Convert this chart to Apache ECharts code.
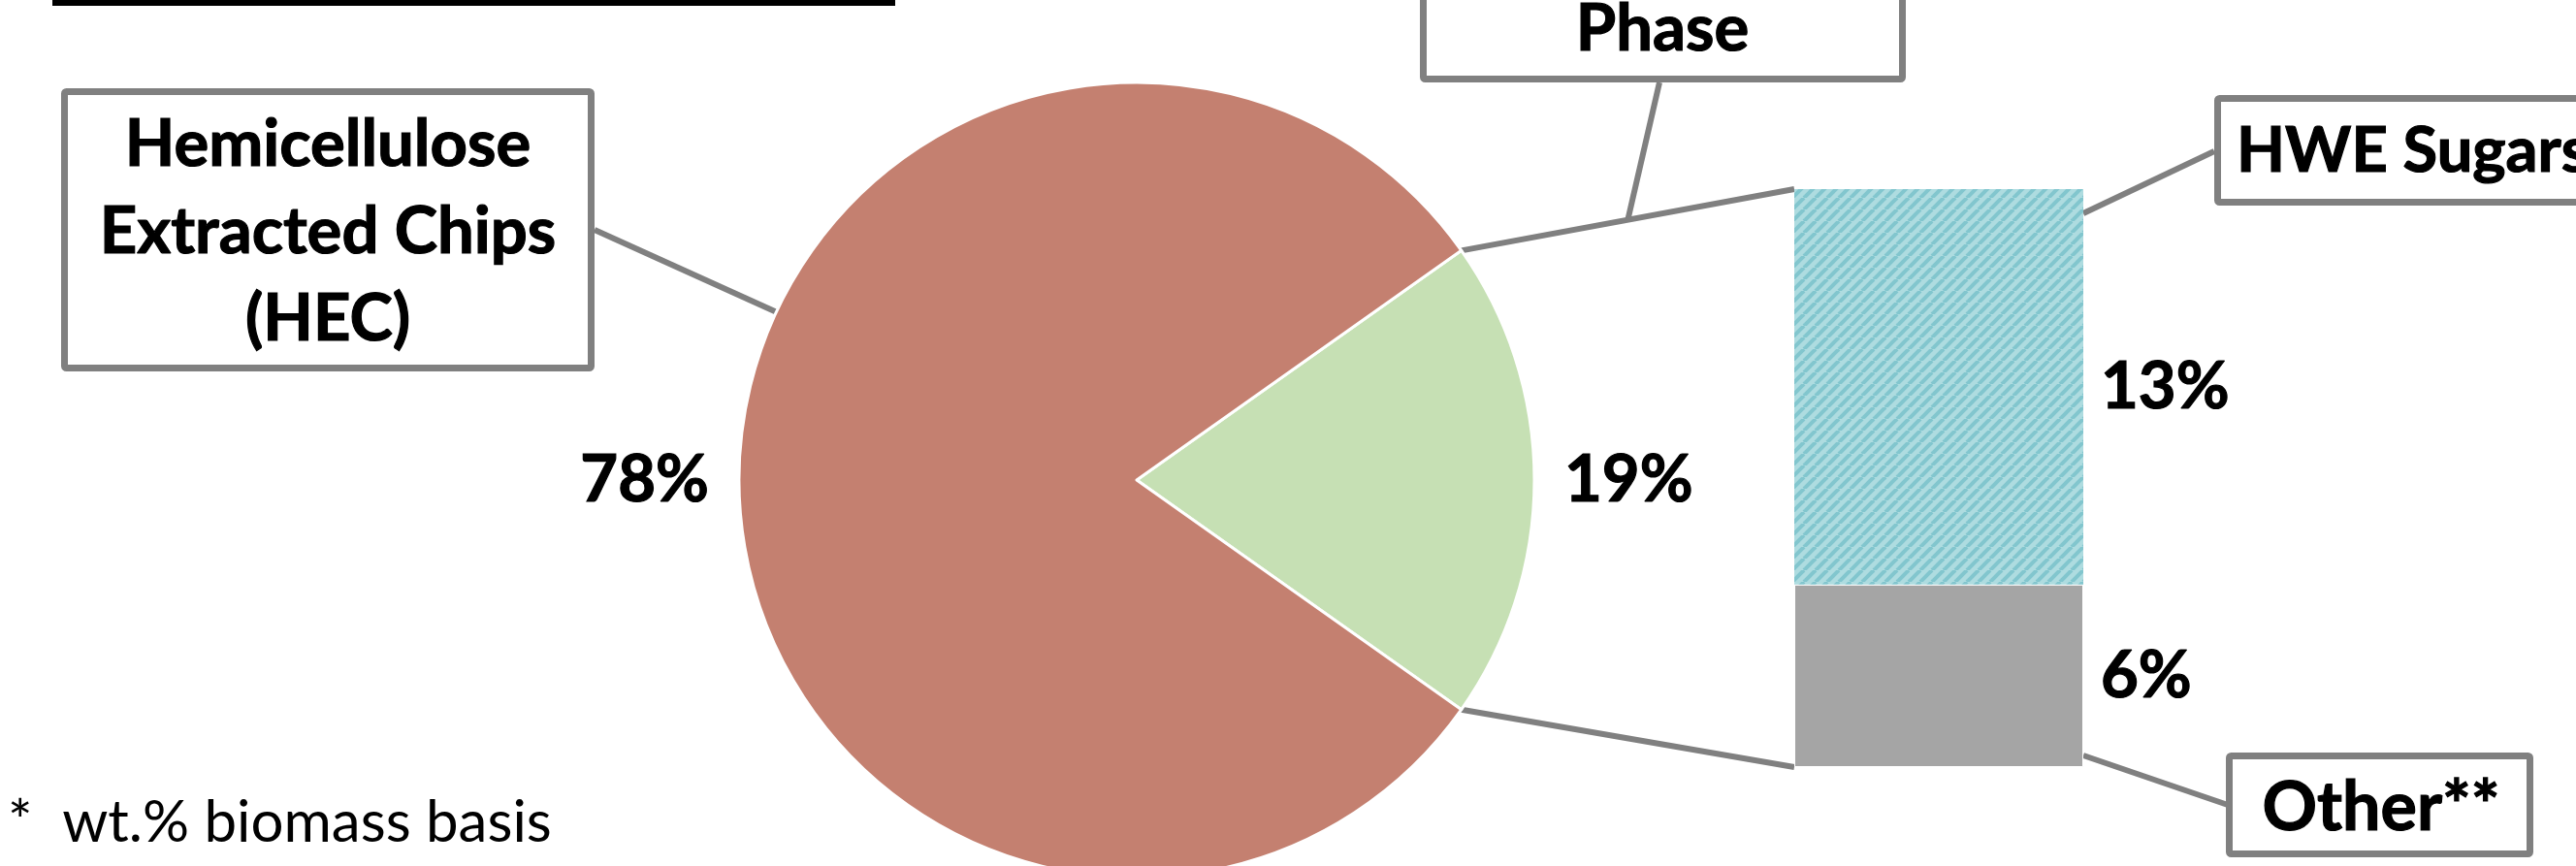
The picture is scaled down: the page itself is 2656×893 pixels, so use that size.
<!DOCTYPE html>
<html>
<head>
<meta charset="utf-8">
<script src="https://cdn.jsdelivr.net/npm/echarts@6/dist/echarts.min.js"></script>
<style>
  html, body { margin: 0; padding: 0; background: #fff; }
  #chart { width: 2656px; height: 893px; }
</style>
</head>
<body>
<div id="chart"></div>
<script>
// Biomass split after hot-water extraction, wt.% biomass basis
const pieNames = ['HWE Liquid Phase', 'Hemicellulose Extracted Chips (HEC)'];
const pieValues = [19, 78];
const barNames = ['Other**', 'HWE Sugars'];
const barValues = [6, 13];
const barCategory = ['HWE Liquid Phase'];
const footnote = '*  wt.% biomass basis';

// Styling and layout
const FONT = 'Lato, "Open Sans", "Noto Sans", sans-serif';
const LABEL_SIZE = 67;
const pieColors = ['#C6E0B4', '#C48070'];
const otherColor = '#A5A5A5';
const hatchBg = '#AEDCE0';
const hatchFg = '#82C6CE';
const lineColor = '#808080';
const PIE = { cx: 1172, cy: 495, r: 410 };
const GRID = { left: 1850, top: 195, width: 298, height: 596 };

// Upward diagonal hatch tile for the sugars segment
function hatchTile() {
  const p = 12;
  const c = document.createElement('canvas');
  c.width = p; c.height = p;
  const g = c.getContext('2d');
  g.fillStyle = hatchBg;
  g.fillRect(0, 0, p, p);
  g.strokeStyle = hatchFg;
  g.lineWidth = 4;
  for (const k of [-p, 0, p]) {
    g.beginPath();
    g.moveTo(k, p);
    g.lineTo(k + p, 0);
    g.stroke();
  }
  return c;
}

const pieTotal = pieValues.reduce((a, b) => a + b, 0);
const barTotal = barValues.reduce((a, b) => a + b, 0);
// first slice is centred on the right-hand side of the pie
const halfAngle = pieValues[0] / pieTotal * 180;

const chart = echarts.init(document.getElementById('chart'), null, { renderer: 'canvas' });

// bold labels get a thin outline of their own colour for a heavier weight
const labelText = {
  fontFamily: FONT, fontWeight: 'bold', fontSize: LABEL_SIZE, color: '#000',
  textBorderColor: '#000', textBorderWidth: 1.2
};

chart.setOption({
  backgroundColor: '#fff',
  animation: false,
  grid: { left: GRID.left, top: GRID.top, width: GRID.width, height: GRID.height },
  xAxis: { type: 'category', data: barCategory, show: false },
  yAxis: { type: 'value', min: 0, max: barTotal, show: false },
  series: [
    {
      type: 'pie',
      silent: true,
      center: [PIE.cx, PIE.cy],
      radius: PIE.r,
      startAngle: halfAngle,
      clockwise: true,
      avoidLabelOverlap: false,
      itemStyle: { borderColor: '#fff', borderWidth: 3 },
      label: Object.assign({
        show: true,
        position: 'outside',
        formatter: p => p.value + '%'
      }, labelText),
      labelLine: { show: false, length: 12, length2: 14 },
      data: pieNames.map((n, i) => ({
        name: n, value: pieValues[i], itemStyle: { color: pieColors[i] }
      }))
    },
    {
      type: 'bar',
      name: barNames[0],
      stack: 'liquid',
      barWidth: '100%',
      silent: true,
      itemStyle: { color: otherColor, borderColor: '#fff', borderWidth: 1 },
      label: Object.assign({
        show: true, position: 'right', distance: 18,
        formatter: p => p.value + '%'
      }, labelText),
      data: [barValues[0]]
    },
    {
      type: 'bar',
      name: barNames[1],
      stack: 'liquid',
      barWidth: '100%',
      silent: true,
      itemStyle: { color: { image: hatchTile(), repeat: 'repeat' } },
      label: Object.assign({
        show: true, position: 'right', distance: 18,
        formatter: p => p.value + '%'
      }, labelText),
      data: [barValues[1]]
    }
  ]
});

// Connector and leader lines, derived from the pie and bar geometry
const rad = halfAngle * Math.PI / 180;
const pieTop = [PIE.cx + PIE.r * Math.cos(rad), PIE.cy - PIE.r * Math.sin(rad)];
const pieBot = [PIE.cx + PIE.r * Math.cos(rad), PIE.cy + PIE.r * Math.sin(rad)];
const xCenter = chart.convertToPixel({ xAxisIndex: 0 }, barCategory[0]);
const xL = xCenter - GRID.width / 2;
const xR = xCenter + GRID.width / 2;
const yTop = chart.convertToPixel({ yAxisIndex: 0 }, barTotal);
const yBot = chart.convertToPixel({ yAxisIndex: 0 }, 0);

const hecAngle = 155 * Math.PI / 180;
const hecPoint = [PIE.cx + PIE.r * Math.cos(hecAngle), PIE.cy - PIE.r * Math.sin(hecAngle)];
const connMid = [(pieTop[0] + xL) / 2, (pieTop[1] + yTop) / 2];

function seg(a, b) {
  return {
    type: 'line', silent: true,
    shape: { x1: a[0], y1: a[1], x2: b[0], y2: b[1] },
    style: { stroke: lineColor, lineWidth: 6 }
  };
}
function box(x, y, w, h) {
  return {
    type: 'rect', silent: true,
    shape: { x: x, y: y, width: w, height: h, r: 2 },
    style: { fill: '#fff', stroke: lineColor, lineWidth: 7 }
  };
}
function text(str, x, y, align, extra) {
  return {
    type: 'text', silent: true, x: x, y: y,
    style: Object.assign({
      text: str, fill: '#000', font: 'bold ' + LABEL_SIZE + 'px ' + FONT,
      align: align, verticalAlign: 'middle', lineHeight: 90,
      stroke: '#000', lineWidth: 1.2
    }, extra || {})
  };
}

chart.setOption({
  graphic: [
    // title frame edge along the top
    { type: 'rect', silent: true, shape: { x: 54, y: -10, width: 869, height: 16 }, style: { fill: '#000' } },
    seg(pieTop, [xL, yTop]),
    seg(pieBot, [xL, yBot]),
    seg([613, 237], hecPoint),
    seg([1711, 85], connMid),
    seg([xR, yTop + 25], [2283, 156]),
    seg([xR, yBot - 12], [2297, 830]),
    box(66.5, 94.5, 543, 285),
    text('Hemicellulose\nExtracted Chips\n(HEC)', 338, 239, 'center'),
    box(1467.5, -120, 494, 201.5),
    text('Phase', 1714, 30, 'center'),
    box(2286.5, 101.5, 500, 107),
    text(barNames[1], 2306, 156, 'left', { font: 'bold 65px ' + FONT }),
    box(2298.5, 779.5, 310, 101),
    text(barNames[0], 2455, 833, 'center', { font: 'bold 70px ' + FONT }),
    text(footnote, 8, 849, 'left', { font: 'normal 60px ' + FONT, lineWidth: 0 })
  ]
});
</script>
</body>
</html>
